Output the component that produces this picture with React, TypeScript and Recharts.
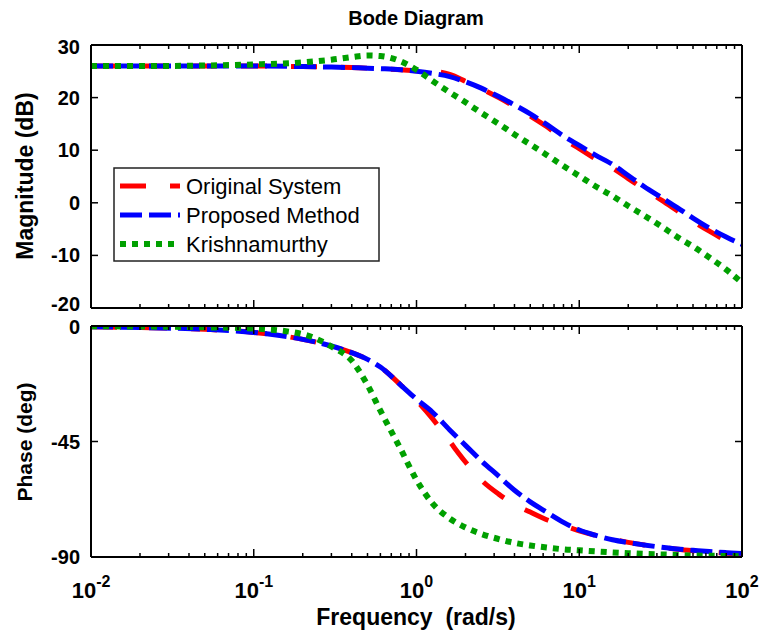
import { Legend, Line, LineChart, XAxis, YAxis } from "recharts";

// frequency grid (rad/s)
const FREQ = [
  0.01, 0.02, 0.05, 0.1, 0.2, 0.3, 0.4, 0.5, 0.6, 0.8, 1, 1.25, 1.6, 2, 2.5,
  3.2, 4, 5, 6.3, 8, 10, 12.5, 16, 20, 25, 32, 40, 50, 63, 80, 100,
];

// magnitude (dB)
const MAG_ORIGINAL = [
  26.0, 26.0, 26.0, 26.0, 25.9, 25.8, 25.7, 25.6, 25.5, 25.3, 25.1, 25.0, 24.4,
  23.1, 21.7, 20.0, 18.3, 16.5, 14.5, 12.1, 10.3, 8.4, 6.6, 4.6, 2.6, 0.5,
  -1.5, -3.5, -5.4, -7.2, -8.7,
];
const MAG_PROPOSED = [
  26.0, 26.0, 26.0, 26.0, 25.9, 25.8, 25.7, 25.6, 25.5, 25.3, 25.0, 24.6, 24.0,
  23.0, 21.8, 20.2, 18.6, 16.9, 14.9, 12.7, 10.9, 9.1, 7.3, 5.2, 3.1, 1.0,
  -0.9, -2.9, -4.8, -6.5, -7.9,
];
const MAG_KRISHNAMURTHY = [
  26.0, 26.0, 26.1, 26.3, 26.7, 27.2, 27.7, 28.0, 27.9, 26.9, 25.3, 23.2, 21.0,
  19.1, 17.1, 15.0, 13.0, 11.1, 9.1, 7.0, 5.1, 3.2, 1.3, -0.6, -2.4, -4.5,
  -6.5, -8.3, -10.4, -12.7, -15.2,
];

// phase (deg)
const PHASE_ORIGINAL = [
  -0.3, -0.6, -1.3, -2.5, -5.2, -7.8, -10.4, -13.0, -16.0, -23.0, -29.0, -36.0,
  -45.0, -53.0, -60.0, -65.5, -69.5, -72.5, -75.5, -77.8, -79.8, -81.5, -83.0,
  -84.3, -85.3, -86.2, -87.0, -87.6, -88.1, -88.5, -88.8,
];
const PHASE_PROPOSED = [
  -0.3, -0.6, -1.3, -2.5, -5.2, -7.8, -10.4, -13.0, -16.0, -23.0, -28.5, -33.5,
  -40.5, -46.5, -52.5, -58.5, -64.0, -68.5, -72.5, -76.5, -79.5, -81.5, -83.3,
  -84.4, -85.3, -86.2, -86.9, -87.4, -87.9, -88.3, -88.6,
];
const PHASE_KRISHNAMURTHY = [
  -0.1, -0.2, -0.5, -1.0, -3.2, -8.0, -13.5, -23.0, -33.0, -48.0, -60.0, -69.0,
  -75.0, -78.5, -81.0, -83.0, -84.5, -85.5, -86.3, -87.0, -87.4, -87.8, -88.2,
  -88.5, -88.8, -89.0, -89.2, -89.4, -89.5, -89.6, -89.7,
];

const DECADES = [0.01, 0.1, 1, 10];
const X_TICKS = [
  ...DECADES.flatMap((d) => [1, 2, 3, 4, 5, 6, 7, 8, 9].map((m) => d * m)),
  100,
];
const MAG_TICKS = [-20, -10, 0, 10, 20, 30];
const PHASE_TICKS = [-90, -45, 0];

const SERIES = [
  { key: "orig", name: "Original System", color: "#ff0000", dash: "26 24", width: 5 },
  { key: "prop", name: "Proposed Method", color: "#0000ff", dash: "22 7", width: 5 },
  { key: "krish", name: "Krishnamurthy", color: "#00a000", dash: "6 6", width: 6 },
];

const magRows = FREQ.map((f, i) => ({
  f,
  orig: MAG_ORIGINAL[i],
  prop: MAG_PROPOSED[i],
  krish: MAG_KRISHNAMURTHY[i],
}));
const phaseRows = FREQ.map((f, i) => ({
  f,
  orig: PHASE_ORIGINAL[i],
  prop: PHASE_PROPOSED[i],
  krish: PHASE_KRISHNAMURTHY[i],
}));

const FONT = '"Liberation Sans", Arial, Helvetica, sans-serif';

const XTick = (props: any) => {
  const { x, y, payload, side, labels } = props;
  const lg = Math.log10(payload.value);
  const exp = Math.round(lg);
  const major = Math.abs(lg - exp) < 1e-6;
  const len = major ? 8 : 4;
  const dir = side === "top" ? 1 : -1;
  return (
    <g>
      <line x1={x} x2={x} y1={y} y2={y + dir * len} stroke="#000" strokeWidth={1.5} />
      {labels && major && (
        <text
          x={x}
          y={y + 41}
          textAnchor="middle"
          fontFamily={FONT}
          fontWeight="bold"
          fontSize={22}
          fill="#000"
        >
          10
          <tspan dy={-11} fontSize={16}>
            {exp}
          </tspan>
        </text>
      )}
    </g>
  );
};

const YTick = (props: any) => {
  const { x, y, payload, side, nudge } = props;
  const dir = side === "right" ? -1 : 1;
  const shift = nudge && nudge[payload.value] ? nudge[payload.value] : 0;
  return (
    <g>
      <line x1={x} x2={x + dir * 7} y1={y} y2={y} stroke="#000" strokeWidth={1.5} />
      {side !== "right" && (
        <text
          x={x - 11}
          y={y + 7 + shift}
          textAnchor="end"
          fontFamily={FONT}
          fontWeight="bold"
          fontSize={20}
          fill="#000"
        >
          {payload.value}
        </text>
      )}
    </g>
  );
};

const LegendBox = () => (
  <svg width={267} height={95}>
    <rect x={1} y={1} width={265} height={93} fill="#fff" stroke="#222" strokeWidth={1.5} />
    {SERIES.map((s, i) => {
      const cy = 19 + i * 29;
      return (
        <g key={s.key}>
          <line
            x1={7}
            x2={67}
            y1={cy}
            y2={cy}
            stroke={s.color}
            strokeWidth={s.width}
            strokeDasharray={s.dash}
          />
          <text x={73} y={cy + 8} fontFamily={FONT} fontSize={22} fill="#000">
            {s.name}
          </text>
        </g>
      );
    })}
  </svg>
);

function Panel({ rows, ticks, domain, top, bottom, labels, legend, nudge }: any) {
  return (
    <LineChart
      width={765}
      height={636}
      data={rows}
      margin={{ top: top - 1, right: 22, bottom: 636 - bottom - 1, left: 90 }}
    >
      <XAxis
        xAxisId="bottom"
        dataKey="f"
        type="number"
        scale="log"
        domain={[0.01, 100]}
        allowDataOverflow
        ticks={X_TICKS}
        interval={0}
        height={1}
        tickSize={0}
        tickMargin={0}
        axisLine={{ stroke: "#000", strokeWidth: 2 }}
        tickLine={false}
        tick={<XTick side="bottom" labels={labels} />}
      />
      <XAxis
        xAxisId="top"
        orientation="top"
        dataKey="f"
        type="number"
        scale="log"
        domain={[0.01, 100]}
        allowDataOverflow
        ticks={X_TICKS}
        interval={0}
        height={1}
        tickSize={0}
        tickMargin={0}
        axisLine={{ stroke: "#000", strokeWidth: 2 }}
        tickLine={false}
        tick={<XTick side="top" />}
      />
      <YAxis
        yAxisId="left"
        type="number"
        domain={domain}
        allowDataOverflow
        ticks={ticks}
        interval={0}
        width={1}
        tickSize={0}
        tickMargin={0}
        axisLine={{ stroke: "#000", strokeWidth: 2 }}
        tickLine={false}
        tick={<YTick side="left" nudge={nudge} />}
      />
      <YAxis
        yAxisId="right"
        orientation="right"
        type="number"
        domain={domain}
        allowDataOverflow
        ticks={ticks}
        interval={0}
        width={1}
        tickSize={0}
        tickMargin={0}
        axisLine={{ stroke: "#000", strokeWidth: 2 }}
        tickLine={false}
        tick={<YTick side="right" />}
      />
      {SERIES.map((s) => (
        <Line
          key={s.key}
          xAxisId="bottom"
          yAxisId="left"
          dataKey={s.key}
          name={s.name}
          type="monotone"
          stroke={s.color}
          strokeWidth={s.width}
          strokeDasharray={s.dash}
          strokeLinecap="butt"
          dot={false}
          activeDot={false}
          isAnimationActive={false}
        />
      ))}
      {legend && (
        <Legend
          layout="vertical"
          align="center"
          verticalAlign="middle"
          wrapperStyle={{ left: 113, top: 167, width: 267, height: 95 }}
          content={() => <LegendBox />}
        />
      )}
    </LineChart>
  );
}

const textStyle: any = {
  position: "absolute",
  fontFamily: FONT,
  fontWeight: "bold",
  fontSize: 21,
  color: "#000",
  whiteSpace: "pre",
  lineHeight: "24px",
};

export default function App() {
  return (
    <div
      style={{
        position: "absolute",
        left: 0,
        top: 0,
        width: 765,
        height: 636,
        background: "#fff",
      }}
    >
      <div style={{ position: "absolute", left: 0, top: 0 }}>
        <Panel
          rows={magRows}
          ticks={MAG_TICKS}
          domain={[-20, 30]}
          top={45}
          bottom={308}
          nudge={{ "-20": -4, 30: 2 }}
          legend
        />
      </div>
      <div style={{ position: "absolute", left: 0, top: 0 }}>
        <Panel
          rows={phaseRows}
          ticks={PHASE_TICKS}
          domain={[-90, 0]}
          top={326}
          bottom={557}
          nudge={{ 0: 1 }}
          labels
        />
      </div>
      <div style={{ ...textStyle, left: 316, width: 200, top: 6, textAlign: "center", fontSize: 20 }}>
        Bode Diagram
      </div>
      <div style={{ ...textStyle, left: 266, width: 300, top: 605, textAlign: "center", fontSize: 23 }}>
        {"Frequency  (rad/s)"}
      </div>
      <div
        style={{
          ...textStyle,
          left: 25 - 100,
          top: 176 - 12,
          width: 200,
          textAlign: "center",
          fontSize: 23,
          transform: "rotate(-90deg)",
        }}
      >
        Magnitude (dB)
      </div>
      <div
        style={{
          ...textStyle,
          left: 25 - 100,
          top: 442 - 12,
          width: 200,
          textAlign: "center",
          transform: "rotate(-90deg)",
        }}
      >
        Phase (deg)
      </div>
    </div>
  );
}
